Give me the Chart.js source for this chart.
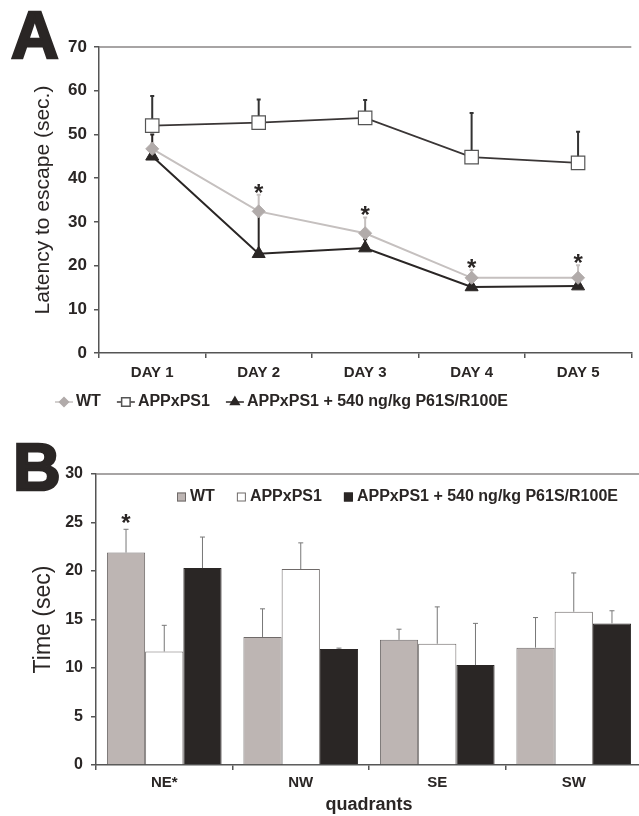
<!DOCTYPE html>
<html>
<head>
<meta charset="utf-8">
<script src="https://cdn.jsdelivr.net/npm/chart.js@4"></script>
<style>
html, body { margin: 0; padding: 0; background: #fff; width: 639px; height: 816px; overflow: hidden; }
.panel { position: absolute; left: 0; width: 642px; }
#panel-a { top: 0; height: 430px; }
#panel-b { top: 430px; height: 386px; }
.big { position: absolute; font: bold 66px 'Liberation Sans', Arial, sans-serif; color: #2a2625; line-height: 1;
       -webkit-text-stroke: 2.5px #2a2625; }
</style>
</head>
<body>
<div class="panel" id="panel-a"><canvas id="chart-a" width="642" height="430"></canvas></div>
<div class="panel" id="panel-b"><canvas id="chart-b" width="642" height="386"></canvas></div>
<div class="big" style="left:11px; top:2px;">A</div>
<div class="big" style="left:13px; top:434px;">B</div>
<script>
// --- data ---
const days = ['DAY 1', 'DAY 2', 'DAY 3', 'DAY 4', 'DAY 5'];
const seriesNames = ['WT', 'APPxPS1', 'APPxPS1 + 540 ng/kg P61S/R100E'];

const wtLatency = [46.7, 32.4, 27.4, 17.2, 17.2];
const wtLatencyErr = [1.2, 3.8, 3.6, 1.8, 2.9];
const appLatency = [52.0, 52.7, 53.8, 44.8, 43.5];
const appLatencyErr = [6.8, 5.3, 4.1, 10.1, 7.1];
const treatLatency = [45.0, 22.7, 24.0, 15.1, 15.3];
const treatLatencyErr = [5.0, 9.6, 2.0, 1.2, 1.0];
const latencyStars = ['', '*', '*', '*', '*'];

const quadrants = ['NE*', 'NW', 'SE', 'SW'];
const wtTime = [21.9, 13.2, 12.9, 12.1];
const wtTimeErr = [2.4, 2.9, 1.1, 3.1];
const appTime = [11.7, 20.2, 12.5, 15.8];
const appTimeErr = [2.7, 2.7, 3.8, 4.0];
const treatTime = [20.3, 11.95, 10.3, 14.6];
const treatTimeErr = [3.2, 0.1, 4.3, 1.3];
const timeStars = ['*', '', '', ''];

const FONT = "'Liberation Sans', Arial, sans-serif";
const INK = '#2a2625';
const AXIS = '#555';

// error bars (+ significance stars), drawn from the y scale
function drawErrorBars(chart, opt) {
    const ctx = chart.ctx;
    const y = chart.scales.y;
    for (let i = chart.data.datasets.length - 1; i >= 0; i--) {
        const ds = chart.data.datasets[i];
        const meta = chart.getDatasetMeta(i);
        meta.data.forEach((el, j) => {
            const base = y.getPixelForValue(ds.data[j]);
            const top = y.getPixelForValue(ds.data[j] + ds.errors[j]);
            ctx.save();
            ctx.strokeStyle = ds.errColor;
            ctx.lineWidth = opt.width;
            ctx.beginPath();
            ctx.moveTo(el.x, base);
            ctx.lineTo(el.x, top);
            ctx.moveTo(el.x - opt.cap, top);
            ctx.lineTo(el.x + opt.cap, top);
            ctx.stroke();
            if (ds.stars && ds.stars[j]) {
                ctx.fillStyle = INK;
                ctx.font = 'bold 24px ' + FONT;
                ctx.textAlign = 'center';
                ctx.textBaseline = 'alphabetic';
                ctx.fillText(ds.stars[j], el.x, top - opt.starGap + 14);
            }
            ctx.restore();
        });
    }
}

function drawTopLine(chart) {
    const ctx = chart.ctx, a = chart.chartArea;
    ctx.save();
    ctx.strokeStyle = '#8a8686';
    ctx.lineWidth = 1.5;
    ctx.beginPath();
    ctx.moveTo(a.left, a.top);
    ctx.lineTo(a.right, a.top);
    ctx.stroke();
    ctx.restore();
}

// 1. Panel A: latency line chart
const legendA = {
    id: 'legendA',
    afterDraw(chart) {
        const ctx = chart.ctx;
        let x = 55;
        const y = 402;
        ctx.save();
        ctx.font = 'bold 16px ' + FONT;
        ctx.textBaseline = 'middle';
        chart.data.datasets.forEach(ds => {
            ctx.strokeStyle = ds.borderColor;
            ctx.lineWidth = 1.5;
            ctx.beginPath();
            ctx.moveTo(x, y);
            ctx.lineTo(x + 18, y);
            ctx.stroke();
            ctx.fillStyle = ds.backgroundColor;
            ctx.strokeStyle = ds.pointBorderColor;
            Chart.helpers.drawPoint(ctx, { pointStyle: ds.pointStyle, radius: ds.legendRadius, borderWidth: 1, rotation: 0 }, x + 9, y);
            ctx.fillStyle = INK;
            ctx.fillText(ds.label, x + 21, y);
            x += 21 + ctx.measureText(ds.label).width + 16;
        });
        ctx.restore();
    }
};

new Chart(document.getElementById('chart-a'), {
    type: 'line',
    data: {
        labels: days,
        datasets: [
            { label: seriesNames[0], data: wtLatency, errors: wtLatencyErr, stars: latencyStars, errColor: '#c5c0bf',
              borderColor: '#c5c0bf', backgroundColor: '#b1abaa', pointBorderColor: '#b1abaa', borderWidth: 2,
              pointStyle: 'rectRot', pointRadius: 6.5, pointBorderWidth: 1, legendRadius: 4.5 },
            { label: seriesNames[1], data: appLatency, errors: appLatencyErr, errColor: '#333',
              borderColor: '#3a3636', backgroundColor: '#ffffff', pointBorderColor: '#555', borderWidth: 1.8,
              pointStyle: 'rect', pointRadius: 9.5, pointBorderWidth: 1.2, legendRadius: 6 },
            { label: seriesNames[2], data: treatLatency, errors: treatLatencyErr, errColor: INK,
              borderColor: INK, backgroundColor: INK, pointBorderColor: INK, borderWidth: 2,
              pointStyle: 'triangle', pointRadius: 7.5, pointBorderWidth: 1, legendRadius: 5 }
        ]
    },
    options: {
        responsive: false,
        animation: false,
        layout: { padding: { top: 47, left: 0, right: 0, bottom: 37 } },
        plugins: { legend: { display: false }, tooltip: { enabled: false } },
        elements: { line: { tension: 0 } },
        scales: {
            x: {
                offset: true,
                grid: { offset: true, drawOnChartArea: false, tickLength: 5, color: AXIS, lineWidth: 1.5 },
                border: { color: AXIS, width: 1.5 },
                ticks: { padding: 6, color: INK, font: { family: FONT, size: 15, weight: 'bold' } },
                afterFit: s => { s.height = 40; }
            },
            y: {
                min: 0, max: 70,
                grid: { drawOnChartArea: false, tickLength: 5, color: AXIS, lineWidth: 1.5 },
                border: { color: AXIS, width: 1.5 },
                ticks: { stepSize: 10, padding: 7, color: INK, font: { family: FONT, size: 17, weight: 'bold' } },
                title: { display: true, text: 'Latency to escape (sec.)', color: INK,
                         font: { family: FONT, size: 21 }, padding: { top: 31, bottom: 0 } },
                afterFit: s => { s.width = 99; }
            }
        }
    },
    plugins: [
        { id: 'errA', beforeDatasetsDraw: c => drawErrorBars(c, { width: 2, cap: 2, starGap: 8 }) },
        { id: 'topA', afterDraw: drawTopLine },
        legendA
    ]
});

// 2. Panel B: time per quadrant bar chart
const legendB = {
    id: 'legendB',
    afterDraw(chart) {
        const ctx = chart.ctx;
        let x = 177;
        const y = 67;
        ctx.save();
        ctx.font = 'bold 16px ' + FONT;
        ctx.textBaseline = 'middle';
        chart.data.datasets.forEach(ds => {
            ctx.fillStyle = ds.backgroundColor;
            ctx.strokeStyle = ds.borderColor;
            ctx.lineWidth = 1;
            ctx.fillRect(x, y - 4.5, 9, 9);
            ctx.strokeRect(x + 0.5, y - 4, 8, 8);
            ctx.fillStyle = INK;
            ctx.fillText(ds.label, x + 13, y);
            x += 13 + ctx.measureText(ds.label).width + 22;
        });
        ctx.restore();
    }
};

new Chart(document.getElementById('chart-b'), {
    type: 'bar',
    data: {
        labels: quadrants,
        datasets: [
            { label: seriesNames[0], data: wtTime, errors: wtTimeErr, stars: timeStars, errColor: '#777',
              backgroundColor: '#bdb5b3', borderColor: '#6f6a69', borderWidth: 1 },
            { label: seriesNames[1], data: appTime, errors: appTimeErr, errColor: '#777',
              backgroundColor: '#ffffff', borderColor: '#6f6a69', borderWidth: 1 },
            { label: seriesNames[2], data: treatTime, errors: treatTimeErr, errColor: '#777',
              backgroundColor: INK, borderColor: INK, borderWidth: 1 }
        ]
    },
    options: {
        responsive: false,
        animation: false,
        layout: { padding: { top: 44, left: 0, right: 0, bottom: 0 } },
        plugins: { legend: { display: false }, tooltip: { enabled: false } },
        datasets: { bar: { categoryPercentage: 0.84, barPercentage: 1 } },
        scales: {
            x: {
                grid: { offset: true, drawOnChartArea: false, tickLength: 5, color: AXIS, lineWidth: 1.5 },
                border: { color: AXIS, width: 1.5 },
                ticks: { padding: 4, color: INK, font: { family: FONT, size: 15, weight: 'bold' } },
                title: { display: true, text: 'quadrants', color: INK,
                         font: { family: FONT, size: 18, weight: 'bold' }, padding: { top: 0, bottom: 0 } },
                afterFit: s => { s.height = 51; }
            },
            y: {
                min: 0, max: 30,
                grid: { drawOnChartArea: false, tickLength: 5, color: AXIS, lineWidth: 1.5 },
                border: { color: AXIS, width: 1.5 },
                ticks: { stepSize: 5, padding: 8, color: INK, font: { family: FONT, size: 16, weight: 'bold' } },
                title: { display: true, text: 'Time (sec)', color: INK,
                         font: { family: FONT, size: 23 }, padding: { top: 30, bottom: 0 } },
                afterFit: s => { s.width = 96; }
            }
        }
    },
    plugins: [
        { id: 'errB', afterDatasetsDraw: c => drawErrorBars(c, { width: 1, cap: 2.5, starGap: 12 }) },
        { id: 'topB', afterDraw: drawTopLine },
        legendB
    ]
});
</script>
</body>
</html>
